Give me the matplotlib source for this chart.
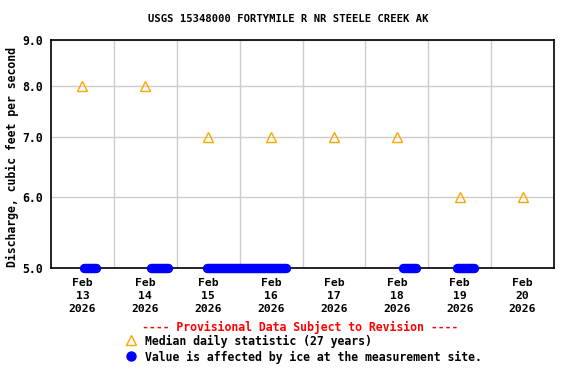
import matplotlib
matplotlib.use("Agg")
import matplotlib.pyplot as plt
import matplotlib.dates as mdates
from matplotlib.ticker import FixedLocator, NullFormatter, FixedFormatter, NullLocator
from datetime import datetime

title = "USGS 15348000 FORTYMILE R NR STEELE CREEK AK"
ylabel = "Discharge, cubic feet per second"

median_days = [datetime(2026, 2, d, 12) for d in range(13, 21)]
median_vals = [8.0, 8.0, 7.0, 7.0, 7.0, 7.0, 6.0, 6.0]

ice_starts = [datetime(2026, 2, 13, 12, 25), datetime(2026, 2, 14, 14, 5),
              datetime(2026, 2, 15, 11, 25), datetime(2026, 2, 18, 14, 25),
              datetime(2026, 2, 19, 11, 0)]
ice_ends = [datetime(2026, 2, 13, 17, 0), datetime(2026, 2, 14, 20, 35),
            datetime(2026, 2, 16, 17, 45), datetime(2026, 2, 18, 19, 10),
            datetime(2026, 2, 19, 17, 35)]
ice_val = 5.0

yticks = [5.0, 6.0, 7.0, 8.0, 9.0]
ytick_labels = ["5.0", "6.0", "7.0", "8.0", "9.0"]
xlabels = ["Feb\n%d\n2026" % d for d in range(13, 21)]

font = "DejaVu Sans Mono"
plt.rcParams['font.family'] = font
plt.rcParams['font.weight'] = 'bold'

fig = plt.figure(figsize=(5.76, 3.84), dpi=100)
ax = fig.add_axes([51/576, 1-268/384, 503/576, 228/384])

ax.set_yscale('log')
ax.set_ylim(5.0, 9.0)
ax.set_xlim(mdates.date2num(datetime(2026, 2, 13)), mdates.date2num(datetime(2026, 2, 21)))

# ice segments
for s, e in zip(ice_starts, ice_ends):
    ax.plot([mdates.date2num(s), mdates.date2num(e)], [ice_val, ice_val],
            color='#0000ff', lw=6.8, solid_capstyle='round', zorder=4, clip_on=False)

ax.plot(mdates.date2num(median_days), median_vals, linestyle='none', marker='^',
        markersize=7, markerfacecolor='none', markeredgecolor='#ffa500',
        markeredgewidth=1.0, zorder=5)

ax.yaxis.set_major_locator(FixedLocator(yticks))
ax.yaxis.set_major_formatter(FixedFormatter(ytick_labels))
ax.yaxis.set_minor_locator(NullLocator())
ax.yaxis.set_minor_formatter(NullFormatter())

major_x = [mdates.date2num(datetime(2026, 2, d)) for d in range(14, 21)]
ax.xaxis.set_major_locator(FixedLocator(major_x))
ax.xaxis.set_major_formatter(NullFormatter())
ax.xaxis.set_minor_locator(FixedLocator(mdates.date2num(median_days)))
ax.xaxis.set_minor_formatter(FixedFormatter(xlabels))

ax.grid(True, which='major', axis='both', color='#cccccc', lw=1.0)
ax.set_axisbelow(True)
ax.tick_params(axis='both', which='both', length=0)
ax.tick_params(axis='y', labelsize=8.3, pad=6)
ax.tick_params(axis='x', which='minor', labelsize=8.2, pad=7)
for lab in ax.get_xticklabels(minor=True):
    lab.set_linespacing(1.37)
    lab.set_fontweight('bold')
for lab in ax.get_yticklabels():
    lab.set_fontweight('bold')
for sp in ax.spines.values():
    sp.set_color('black')
    sp.set_linewidth(1.2)

fig.text(288/576, 1-19/384, title, ha='center', va='center', fontsize=7.6, fontweight='bold')
fig.text(12/576, 1-157/384, ylabel, ha='center', va='center', rotation=90, fontsize=8.3, fontweight='bold')

fig.text(300/576, 1-327/384, "---- Provisional Data Subject to Revision ----", ha='center', va='center',
         fontsize=8.3, fontweight='bold', color='#ff0000')
fig.text(145/576, 1-341/384, "Median daily statistic (27 years)", ha='left', va='center',
         fontsize=8.3, fontweight='bold')
fig.text(145/576, 1-357/384, "Value is affected by ice at the measurement site.", ha='left', va='center',
         fontsize=8.3, fontweight='bold')
fig.lines.append(plt.Line2D([131/576], [1-340/384], transform=fig.transFigure, marker='^',
                            markersize=7, markerfacecolor='none', markeredgecolor='#ffa500',
                            markeredgewidth=1.0, linestyle='none'))
fig.lines.append(plt.Line2D([131/576], [1-356/384], transform=fig.transFigure, marker='o',
                            markersize=6.5, color='#0000ff', linestyle='none'))

fig.savefig("out.png", dpi=100)
